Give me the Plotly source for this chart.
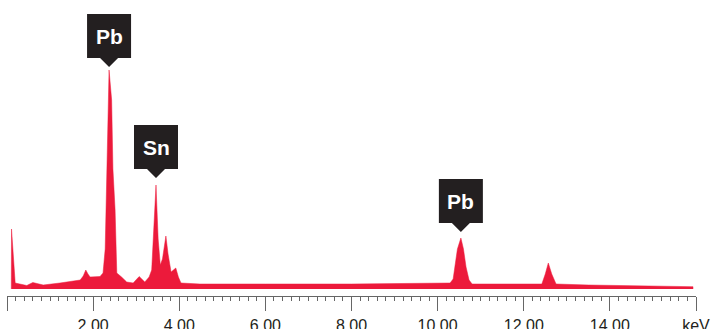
import plotly.graph_objects as go

# Spectrum (energy in keV, counts in arbitrary units)
energy = [0.10, 0.105, 0.19, 0.30, 0.46, 0.60, 0.72, 0.84, 1.23, 1.70, 1.77, 1.83, 1.88, 1.93,
          2.16, 2.23, 2.28, 2.30, 2.35, 2.37, 2.43, 2.46, 2.51, 2.55, 2.66, 2.78, 2.93, 3.07,
          3.20, 3.30, 3.36, 3.40, 3.46, 3.51, 3.56, 3.61, 3.69, 3.74, 3.81, 3.92, 3.98, 4.04,
          4.48, 6.00, 8.00, 10.29, 10.36, 10.40, 10.46, 10.54, 10.60, 10.66, 10.73, 10.80,
          12.00, 12.42, 12.50, 12.57, 12.65, 12.75, 13.50, 14.50, 15.93, 15.93]
counts = [0, 60, 6, 5, 3.5, 6.5, 5, 4, 6, 9, 13, 19, 15, 12,
          12.5, 16, 40, 80, 189, 219, 189, 120, 79, 16, 12, 7, 6, 12.5,
          7, 12, 19, 60, 104, 50, 24, 30, 53, 35, 17, 21, 12, 6,
          5, 5, 5, 6, 10, 22, 40, 51, 40, 22, 9, 5,
          5, 5, 15, 26, 15, 5, 4, 3, 2.3, 0]

# Element labels
label_text = ["Pb", "Sn", "Pb"]
label_energy = [2.37, 3.46, 10.54]
label_peak = [219, 104, 51]
label_gap = [3, 7, 6]

tick_vals = [0, 2, 4, 6, 8, 10, 12, 14, 16]
tick_text = ["", "2.00", "4.00", "6.00", "8.00", "10.00", "12.00", "14.00", "keV"]

fig = go.Figure()
fig.add_trace(go.Scatter(
    x=energy, y=counts, mode="lines", fill="tozeroy",
    line=dict(color="#EC1A3B", width=0.5), fillcolor="#EC1A3B",
    hoverinfo="skip", showlegend=False))

shapes = []
annotations = []
for t, e, p, g in zip(label_text, label_energy, label_peak, label_gap):
    tip = p + g
    shapes.append(dict(
        type="path", xref="x", yref="y", xsizemode="pixel", ysizemode="pixel",
        xanchor=e, yanchor=tip,
        path="M0,0 L-9,9 L-22,9 L-22,53 L22,53 L22,9 L9,9 Z",
        fillcolor="#231F20", line=dict(width=0)))
    annotations.append(dict(
        x=e, y=tip, xref="x", yref="y", text="<b>%s</b>" % t, showarrow=False,
        yshift=31, xanchor="center", yanchor="middle",
        font=dict(family="Liberation Sans, Arial, sans-serif", size=21, color="white")))

fig.update_layout(
    width=711, height=329,
    margin=dict(l=7, r=15, t=0, b=33),
    paper_bgcolor="white", plot_bgcolor="white",
    shapes=shapes, annotations=annotations,
    xaxis=dict(range=[0, 16], showgrid=False, zeroline=False, automargin=False,
               showline=True, linecolor="#666666", linewidth=1,
               ticks="outside", ticklen=14, tickwidth=1, tickcolor="#666666",
               tickvals=tick_vals, ticktext=tick_text, ticklabelstandoff=1,
               tickfont=dict(family="Liberation Sans, Arial, sans-serif", size=16, color="#231F20"),
               minor=dict(tick0=0, dtick=0.2, ticks="outside", ticklen=4,
                          tickwidth=1, tickcolor="#666666", showgrid=False)),
    yaxis=dict(range=[-7, 289], visible=False, showgrid=False, zeroline=False),
)

fig.write_html("out.html", config={"displayModeBar": False},
               post_script="document.body.style.margin='0';document.body.style.overflow='hidden';")
